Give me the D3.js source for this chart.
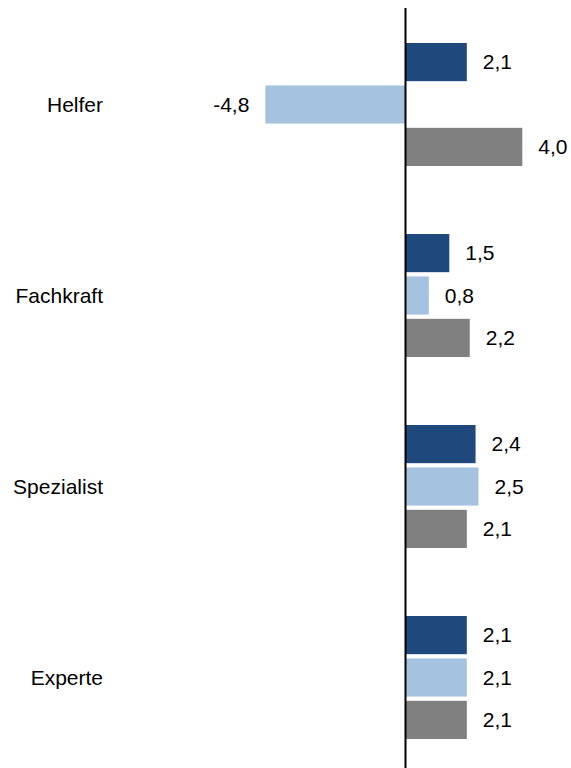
<!DOCTYPE html>
<html>
<head>
<meta charset="utf-8">
<script src="https://cdn.jsdelivr.net/npm/d3@7"></script>
<style>
  html, body { margin: 0; padding: 0; background: #fff; }
  svg { display: block; font-family: "Liberation Sans", Arial, sans-serif; }
</style>
</head>
<body>
<div id="chart"></div>
<script>
// categories (top to bottom) and the three series
const categories = ["Helfer", "Fachkraft", "Spezialist", "Experte"];
const seriesNames = ["s1", "s2", "s3"];
const series1 = [2.1, 1.5, 2.4, 2.1];
const series2 = [-4.8, 0.8, 2.5, 2.1];
const series3 = [4.0, 2.2, 2.1, 2.1];
const colors = ["#1f487c", "#a5c3e0", "#808080"];

const width = 571, height = 768;

const svg = d3.select("#chart").append("svg")
  .attr("width", width)
  .attr("height", height);

// scales
const x = d3.scaleLinear().domain([-5, 5]).range([259.5, 551.5]);
const y0 = d3.scaleBand().domain(categories).range([9, 773]).paddingInner(0);
const y1 = d3.scaleBand().domain(seriesNames).range([34, 157]).paddingInner(0.1);

const rows = categories.map((c, i) => ({
  cat: c,
  vals: [series1[i], series2[i], series3[i]]
}));

// german decimal comma, plain hyphen for negatives
const fmt = v => v.toFixed(1).replace(".", ",");

const groups = svg.selectAll("g.group")
  .data(rows)
  .join("g")
    .attr("class", "group")
    .attr("transform", d => `translate(0,${y0(d.cat)})`);

// bars
groups.selectAll("rect")
  .data(d => d.vals.map((v, j) => ({ key: seriesNames[j], v, j })))
  .join("rect")
    .attr("x", d => x(Math.min(0, d.v)))
    .attr("y", d => y1(d.key))
    .attr("width", d => Math.abs(x(d.v) - x(0)))
    .attr("height", y1.bandwidth())
    .attr("fill", d => colors[d.j]);

// value labels
groups.selectAll("text.val")
  .data(d => d.vals.map((v, j) => ({ key: seriesNames[j], v, j })))
  .join("text")
    .attr("class", "val")
    .attr("x", d => d.v < 0 ? x(d.v) - 16 : x(d.v) + 16)
    .attr("y", d => y1(d.key) + y1.bandwidth() / 2)
    .attr("dy", "0.35em")
    .attr("text-anchor", d => d.v < 0 ? "end" : "start")
    .attr("font-size", 21)
    .attr("fill", "#000")
    .text(d => fmt(d.v));

// category labels
svg.selectAll("text.cat")
  .data(categories)
  .join("text")
    .attr("class", "cat")
    .attr("x", 103)
    .attr("y", d => y0(d) + y0.bandwidth() / 2)
    .attr("dy", "0.35em")
    .attr("text-anchor", "end")
    .attr("font-size", 21)
    .attr("fill", "#000")
    .text(d => d);

// zero line
svg.append("line")
  .attr("x1", x(0)).attr("x2", x(0))
  .attr("y1", 8).attr("y2", height)
  .attr("stroke", "#000")
  .attr("stroke-width", 2);
</script>
</body>
</html>
